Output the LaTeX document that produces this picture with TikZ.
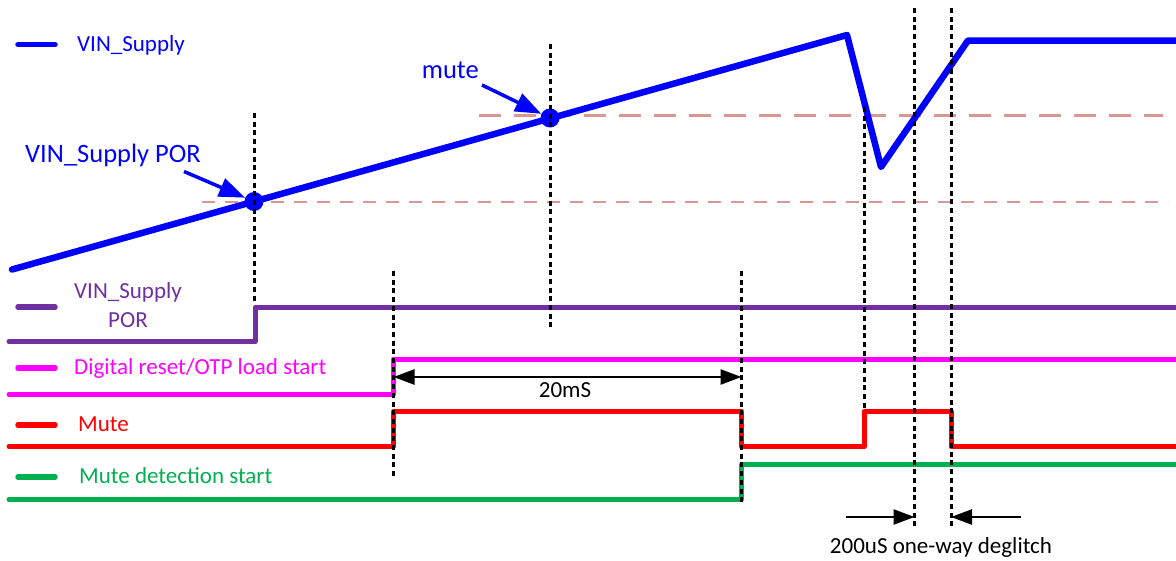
\documentclass[tikz,border=0pt]{standalone}
\usepackage{fontspec}
\setmainfont{Carlito}
\usetikzlibrary{arrows.meta}
\definecolor{vinblue}{RGB}{0,0,255}
\definecolor{porpurple}{RGB}{112,48,160}
\definecolor{rstmag}{RGB}{255,0,255}
\definecolor{mutered}{RGB}{255,0,0}
\definecolor{detgreen}{RGB}{0,176,80}
\definecolor{threshpink}{RGB}{218,150,148}
\tikzset{
  vinline/.style={line width=6.5pt, draw=vinblue, line cap=round, line join=round},
  sigline/.style={line width=5pt, line cap=round, line join=round},
  keyseg/.style={line width=5.5pt, line cap=round},
  marker/.style={line width=3pt, black, dash pattern=on 5pt off 3.7pt},
  threshlo/.style={line width=2pt, threshpink, dash pattern=on 12.5pt off 10.5pt},
  threshhi/.style={line width=3pt, threshpink, dash pattern=on 22pt off 13pt},
  lgd/.style={font=\fontsize{23}{28.5}\selectfont, inner sep=0pt, anchor=base west},
  callout/.style={font=\fontsize{26.5}{31}\selectfont, inner sep=0pt, anchor=base west, text=vinblue},
  dotmark/.style={circle, fill=vinblue, minimum size=19pt, inner sep=0pt},
  pointer/.style={vinblue, line width=3.5pt, -{Triangle[length=26pt,width=19pt]}},
  spanarrow/.style={black, line width=2.5pt},
  spantext/.style={font=\fontsize{23}{28}\selectfont, inner sep=0pt, anchor=base, text=black}
}
\begin{document}
\begin{tikzpicture}[x=1pt,y=-1pt]
\useasboundingbox (0,0) rectangle (1176,560);
\fill[white] (0,0) rectangle (1176,560);

% threshold lines
\draw[threshlo] (202,202) -- (1168,202);
\draw[threshhi] (479,115) -- (1163,115);

% VIN supply waveform
\draw[vinline] (12,269.5) -- (847,35) -- (881,167) -- (968,40.5) -- (1182,40.5);
\node[dotmark] (pordot) at (254,201.5) {};
\node[dotmark] (mutedot) at (550,118) {};

% digital signals
\draw[sigline, porpurple] (9,341.5) -- (255,341.5) -- (255,307.5) -- (1182,307.5);
\draw[sigline, rstmag] (9,394.5) -- (393.5,394.5) -- (393.5,359) -- (1182,359);
\draw[sigline, mutered] (9,446.5) -- (393.5,446.5) -- (393.5,411.5) -- (741.5,411.5) -- (741.5,446.5) -- (864,446.5) -- (864,411.5) -- (951,411.5) -- (951,446.5) -- (1182,446.5);
\draw[sigline, detgreen] (9,499.5) -- (741.5,499.5) -- (741.5,464.5) -- (1182,464.5);

% legend
\draw[keyseg, vinblue] (18,44.5) -- (55,44.5);
\node[lgd, text=vinblue] (lgvin) at (77,51.7) {VIN\_Supply};
\draw[keyseg, porpurple] (18,307) -- (55,307);
\node[font=\fontsize{23}{28.5}\selectfont, inner sep=0pt, anchor=north, align=center, text=porpurple] (lgpor) at (128,282.5) {VIN\_Supply\\POR};
\draw[keyseg, rstmag] (18,368) -- (55,368);
\node[lgd, text=rstmag] (lgrst) at (74,374.3) {Digital reset/OTP load start};
\draw[keyseg, mutered] (18,425) -- (55,425);
\node[lgd, text=mutered] (lgmute) at (78,431) {Mute};
\draw[keyseg, detgreen] (18,477) -- (55,477);
\node[lgd, text=detgreen] (lgdet) at (79,483.3) {Mute detection start};

% callouts
\node[callout] (porlbl) at (25,162.3) {VIN\_Supply POR};
\coordinate (porfrom) at (184,171.5);
\draw[pointer] (porfrom) -- (pordot);
\node[callout] (mutelbl) at (421.7,78.3) {mute};
\coordinate (mutefrom) at (482,85);
\draw[pointer] (mutefrom) -- (mutedot);

% time spans
\coordinate (tA) at (393.5,377);
\coordinate (tB) at (741.5,377);
\draw[spanarrow, {Triangle[length=21pt,width=15pt]}-{Triangle[length=21pt,width=15pt]}] (tA) -- (tB);
\node[spantext] (twenty) at (565,397.3) {20mS};

\coordinate (dgL0) at (846,517);
\coordinate (dgL1) at (914.5,517);
\coordinate (dgR0) at (1021,517);
\coordinate (dgR1) at (951,517);
\draw[spanarrow, -{Triangle[length=21pt,width=15pt]}] (dgL0) -- (dgL1);
\draw[spanarrow, -{Triangle[length=21pt,width=15pt]}] (dgR0) -- (dgR1);
\node[spantext] (dglbl) at (941,553) {200uS one-way deglitch};

% dotted time markers
\draw[marker] (254,113) -- (254,303);
\draw[marker] (393.5,271) -- (393.5,477);
\draw[marker] (550,44) -- (550,328);
\draw[marker] (741.5,271) -- (741.5,502);
\draw[marker] (864,107) -- (864,410);
\draw[marker] (914.5,8) -- (914.5,528);
\draw[marker] (951,8) -- (951,528);
\end{tikzpicture}
\end{document}
